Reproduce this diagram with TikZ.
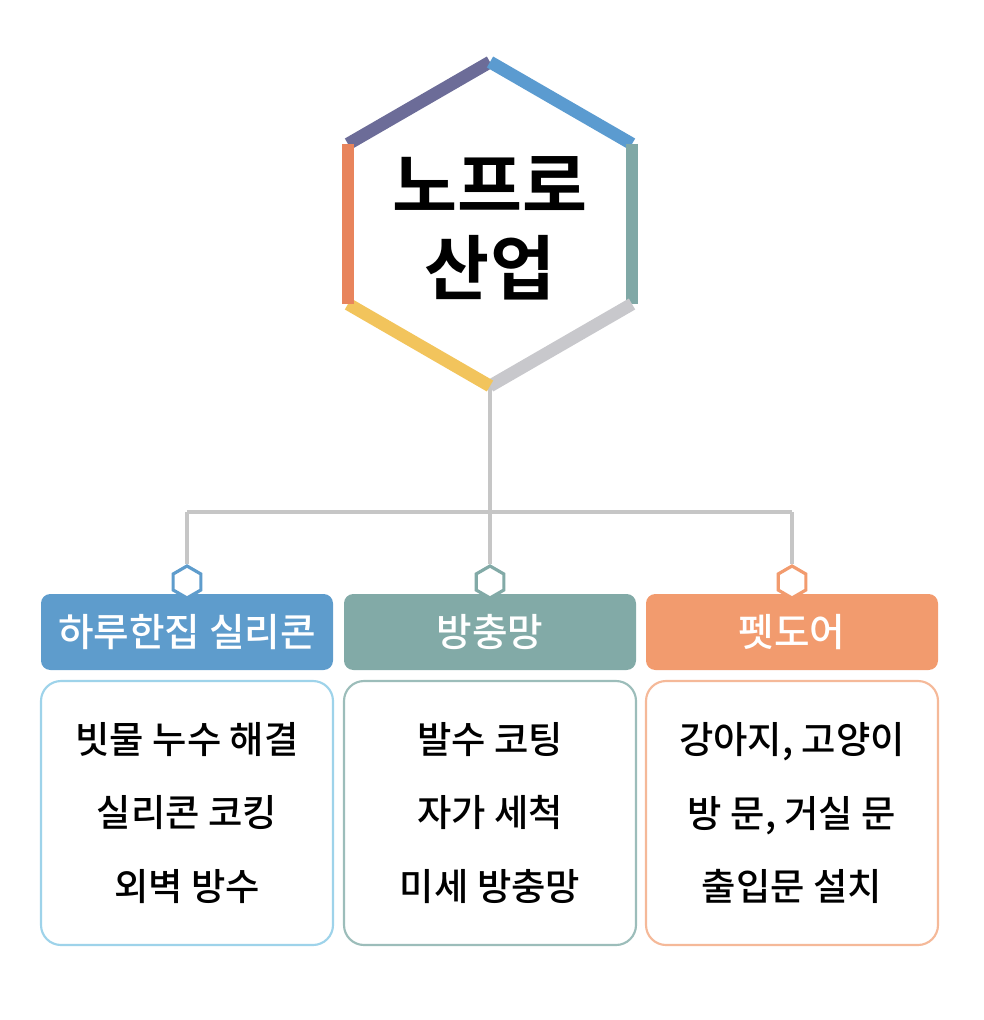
\documentclass[tikz,border=0pt]{standalone}
\usepackage{fontspec}
\setmainfont{Noto Sans CJK KR Medium}
\newfontfamily\boldkr{Noto Sans CJK KR Bold}
\usetikzlibrary{shapes.geometric}
\begin{document}
\begin{tikzpicture}[x=0.75pt,y=-0.75pt,
  hexedge/.style={line width=9.5pt,line cap=butt},
  link/.style={draw=gray!45!white,line width=3pt},
  head/.style={rounded corners=7pt,minimum width=219pt,minimum height=57pt,inner sep=0pt,text=white,font=\fontsize{29}{30}\selectfont},
  body/.style={draw,line width=1.6pt,rounded corners=15pt,minimum width=219pt,minimum height=198pt,fill=white,align=center,font=\fontsize{28}{55}\selectfont},
  smallhex/.style={regular polygon,regular polygon sides=6,shape border rotate=30,minimum size=24pt,inner sep=0pt,draw,line width=2.4pt,fill=white}]
\useasboundingbox (0,0) rectangle (984,1020);
\definecolor{cA}{HTML}{6C6C98}\definecolor{cB}{HTML}{5B9BD0}
\definecolor{cC}{HTML}{80A8A6}\definecolor{cD}{HTML}{C8C8CC}
\definecolor{cE}{HTML}{F2C45C}\definecolor{cF}{HTML}{E8845C}
\definecolor{hb}{HTML}{5E9CCC}\definecolor{ht}{HTML}{82AAA7}\definecolor{ho}{HTML}{F29B6E}
\definecolor{bb}{HTML}{9ED3EA}\definecolor{bt}{HTML}{9CBDBA}\definecolor{bo}{HTML}{F5B999}
\coordinate (v1) at (490,62); \coordinate (v2) at (632,144); \coordinate (v3) at (632,304);
\coordinate (v4) at (490,386); \coordinate (v5) at (348,304); \coordinate (v6) at (348,144);
\coordinate (j) at (490,512); \coordinate (jl) at (187,512); \coordinate (jr) at (792,512);
\draw[link] (v4) -- (j);
\draw[link] (jl) -- (jr);
\node[head,fill=hb] (h1) at (187,632) {하루한집 실리콘};
\node[head,fill=ht] (h2) at (490,632) {방충망};
\node[head,fill=ho] (h3) at (792,632) {펫도어};
\node[smallhex,draw=hb] (s1) at (187,582) {};
\node[smallhex,draw=ht] (s2) at (490,582) {};
\node[smallhex,draw=ho] (s3) at (792,582) {};
\draw[link] (jl) -- (s1.north);
\draw[link] (j) -- (s2.north);
\draw[link] (jr) -- (s3.north);
\draw[hexedge,cA] (v6) -- (v1);
\draw[hexedge,cB] (v1) -- (v2);
\draw[hexedge,cC] (v2) -- (v3);
\draw[hexedge,cD] (v3) -- (v4);
\draw[hexedge,cE] (v4) -- (v5);
\draw[hexedge,cF] (v5) -- (v6);
\node[font=\boldkr\fontsize{53}{62}\selectfont,align=center] (t) at (490,228) {노프로\\산업};
\node[body,draw=bb] (b1) at (187,813) {빗물 누수 해결\\실리콘 코킹\\외벽 방수};
\node[body,draw=bt] (b2) at (490,813) {발수 코팅\\자가 세척\\미세 방충망};
\node[body,draw=bo] (b3) at (792,813) {강아지, 고양이\\방 문, 거실 문\\출입문 설치};
\end{tikzpicture}
\end{document}
